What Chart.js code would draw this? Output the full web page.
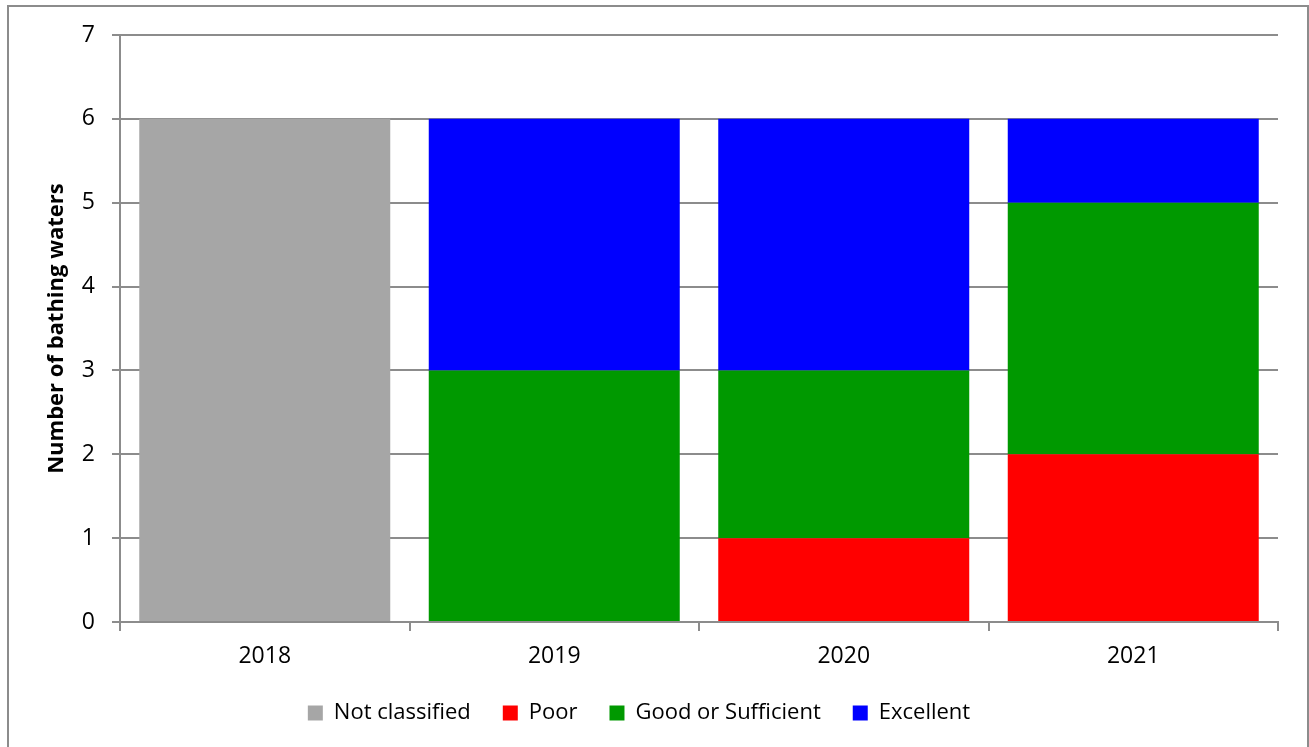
<!DOCTYPE html>
<html>
<head>
<meta charset="utf-8">
<script src="https://cdn.jsdelivr.net/npm/chart.js@4"></script>
<style>
  body { margin: 0; background: #fff; }
  #frame { position: absolute; left: 7px; top: 5px; width: 1298px; height: 760px; border: 2px solid #8c8c8c; }
  #wrap { position: absolute; left: 0; top: 0; width: 1309px; height: 747px; }
</style>
</head>
<body>
<div id="frame"></div>
<div id="wrap"><canvas id="myChart"></canvas></div>
<script>
var years = ['2018', '2019', '2020', '2021'];
var notClassified = [6, 0, 0, 0];
var poor = [0, 0, 1, 2];
var goodOrSufficient = [0, 3, 2, 3];
var excellent = [0, 3, 3, 1];
var yTicks = [0, 1, 2, 3, 4, 5, 6, 7];

var font = "'Open Sans', 'Liberation Sans', sans-serif";
var gridColor = '#8c8c8c';

var ctx = document.getElementById('myChart').getContext('2d');
var myChart = new Chart(ctx, {
    type: 'bar',
    data: {
        labels: years,
        datasets: [
            { label: 'Not classified', data: notClassified, backgroundColor: '#a6a6a6' },
            { label: 'Poor', data: poor, backgroundColor: '#ff0000' },
            { label: 'Good or Sufficient', data: goodOrSufficient, backgroundColor: '#009900' },
            { label: 'Excellent', data: excellent, backgroundColor: '#0000ff' },
        ],
    },
    options: {
        responsive: true,
        maintainAspectRatio: false,
        animation: false,
        barPercentage: 0.867,
        categoryPercentage: 1,
        layout: { padding: { left: 0, top: 35, right: 31, bottom: 13 } },
        plugins: {
            tooltip: { enabled: false },
            legend: {
                position: 'bottom',
                labels: {
                    font: { family: font, size: 22 },
                    color: '#000',
                    boxWidth: 15,
                    boxHeight: 15,
                    padding: 32,
                },
            },
        },
        scales: {
            x: {
                stacked: true,
                grid: { offset: true, drawOnChartArea: false, color: gridColor, lineWidth: 2, tickLength: 9 },
                border: { color: gridColor, width: 2 },
                ticks: { font: { family: font, size: 23 }, color: '#000', padding: 12 },
                afterFit: function (scale) { scale.height = 48; },
            },
            y: {
                stacked: true,
                min: 0,
                max: 7,
                afterBuildTicks: function (scale) {
                    scale.ticks = yTicks.map(function (v) { return { value: v }; });
                },
                grid: { color: gridColor, lineWidth: 2, tickLength: 8 },
                border: { color: gridColor, width: 2 },
                ticks: { font: { family: font, size: 23 }, color: '#000', padding: 17 },
                title: {
                    display: true,
                    text: 'Number of bathing waters',
                    font: { family: font, size: 22, weight: 'bold' },
                    color: '#000',
                    padding: { top: 44, bottom: 0 },
                },
                afterFit: function (scale) { scale.width = 120; },
            },
        },
    },
});
</script>
</body>
</html>
